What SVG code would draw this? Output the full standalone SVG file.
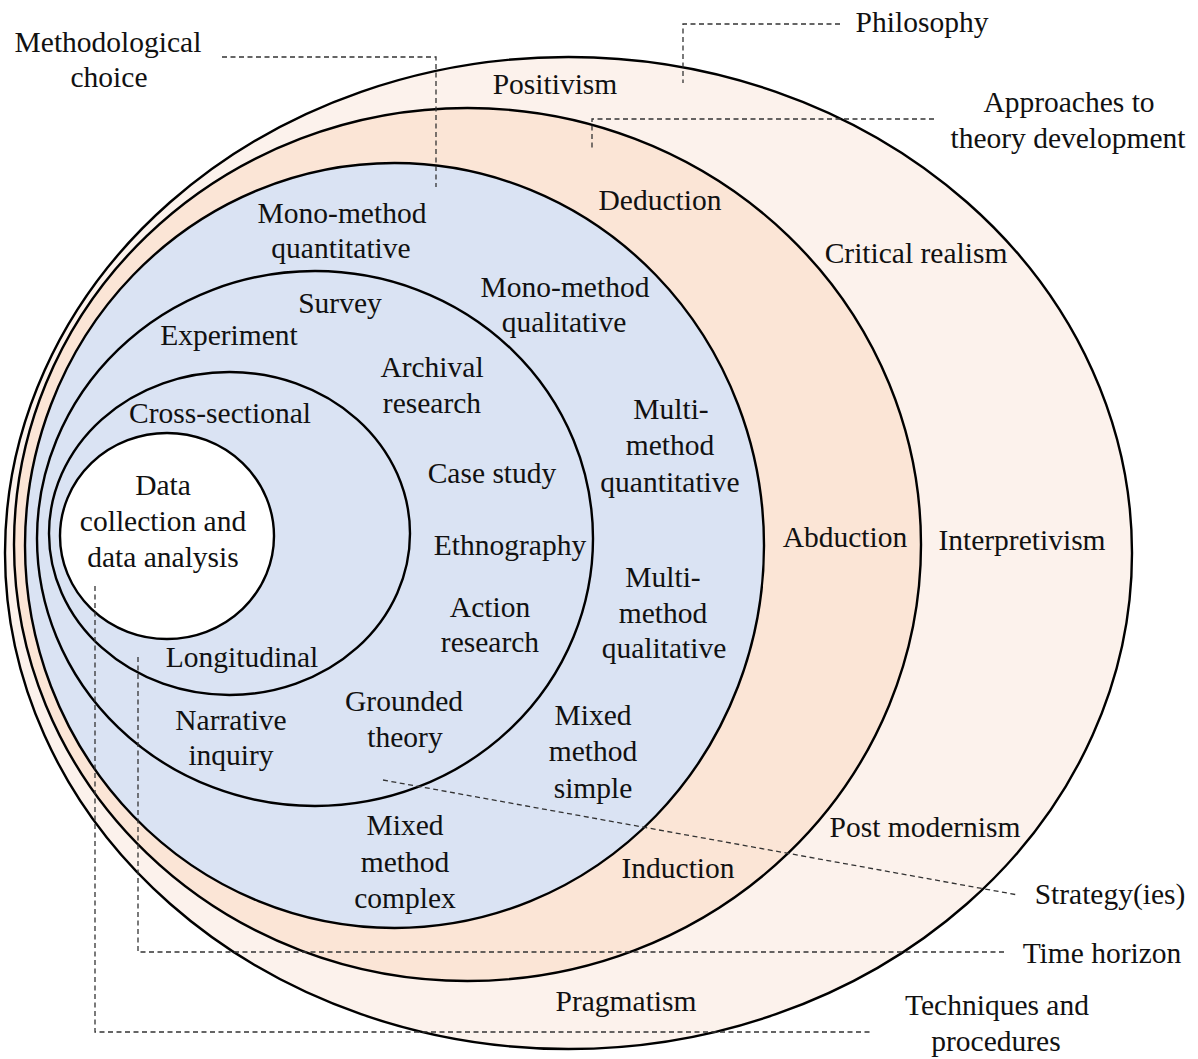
<svg xmlns="http://www.w3.org/2000/svg" width="1198" height="1059" viewBox="0 0 1198 1059">
<style>
.ring{stroke:#000;stroke-width:2.4}
.t{font-family:"Liberation Serif","Times New Roman",serif;font-size:29.5px;fill:#111;text-anchor:middle}
.d{fill:none;stroke:#333;stroke-width:1.3;stroke-dasharray:5 3.5}
</style>
<rect width="1198" height="1059" fill="#fff"/>
<g id="philosophy">
<ellipse class="ring" cx="568.5" cy="553" rx="563.5" ry="496" fill="#FCF2EC"/>
<text class="t" x="555" y="94">Positivism</text>
<text class="t" x="916" y="263">Critical realism</text>
<text class="t" x="1022" y="550">Interpretivism</text>
<text class="t" x="925" y="837">Post modernism</text>
<text class="t" x="626" y="1011">Pragmatism</text>
</g>
<g id="approaches">
<ellipse class="ring" cx="467.5" cy="544.5" rx="453.5" ry="436.5" fill="#FBE5D6"/>
<text class="t" x="660" y="210">Deduction</text>
<text class="t" x="845" y="547">Abduction</text>
<text class="t" x="678" y="878">Induction</text>
</g>
<g id="methodological-choice">
<ellipse class="ring" cx="394.5" cy="545.5" rx="369.5" ry="382.5" fill="#DAE3F3"/>
<text class="t" x="342" y="223">Mono-method</text>
<text class="t" x="341" y="258">quantitative</text>
<text class="t" x="565" y="297">Mono-method</text>
<text class="t" x="564" y="332">qualitative</text>
<text class="t" x="671" y="419">Multi-</text>
<text class="t" x="670" y="455">method</text>
<text class="t" x="670" y="492">quantitative</text>
<text class="t" x="663" y="587">Multi-</text>
<text class="t" x="663" y="623">method</text>
<text class="t" x="664" y="658">qualitative</text>
<text class="t" x="593" y="725">Mixed</text>
<text class="t" x="593" y="761">method</text>
<text class="t" x="593" y="798">simple</text>
<text class="t" x="405" y="835">Mixed</text>
<text class="t" x="405" y="872">method</text>
<text class="t" x="405" y="908">complex</text>
</g>
<g id="strategies">
<ellipse class="ring" cx="315" cy="538.5" rx="278" ry="267.5" fill="#DAE3F3"/>
<text class="t" x="340" y="313">Survey</text>
<text class="t" x="229" y="345">Experiment</text>
<text class="t" x="432" y="377">Archival</text>
<text class="t" x="432" y="413">research</text>
<text class="t" x="492" y="483">Case study</text>
<text class="t" x="510" y="555">Ethnography</text>
<text class="t" x="490" y="617">Action</text>
<text class="t" x="490" y="652">research</text>
<text class="t" x="404" y="711">Grounded</text>
<text class="t" x="405" y="747">theory</text>
<text class="t" x="231" y="730">Narrative</text>
<text class="t" x="231" y="765">inquiry</text>
</g>
<g id="time-horizon">
<ellipse class="ring" cx="229.5" cy="533.5" rx="180.5" ry="161.5" fill="#DAE3F3"/>
<text class="t" x="220" y="423">Cross-sectional</text>
<text class="t" x="242" y="667">Longitudinal</text>
</g>
<g id="data-collection">
<ellipse class="ring" cx="167" cy="536" rx="107" ry="103" fill="#fff"/>
<text class="t" x="163" y="495">Data</text>
<text class="t" x="163" y="531">collection and</text>
<text class="t" x="163" y="567">data analysis</text>
</g>
<g id="connectors">
<polyline class="d" points="222,57 436,57 436,187"/>
<polyline class="d" points="840,24 683,24 683,83"/>
<polyline class="d" points="934,119 592,119 592,150"/>
<line class="d" x1="383" y1="780" x2="1018" y2="895"/>
<polyline class="d" points="138,657 138,952 1004,952"/>
<polyline class="d" points="95,586 95,1032 872,1032"/>
</g>
<g id="label-methodological-choice">
<text class="t" x="108" y="52">Methodological</text>
<text class="t" x="109" y="87">choice</text>
</g>
<g id="label-philosophy"><text class="t" x="922" y="32">Philosophy</text></g>
<g id="label-approaches">
<text class="t" x="1069" y="112">Approaches to</text>
<text class="t" x="1068" y="148">theory development</text>
</g>
<g id="label-strategies"><text class="t" x="1110" y="904">Strategy(ies)</text></g>
<g id="label-time-horizon"><text class="t" x="1102" y="963">Time horizon</text></g>
<g id="label-techniques">
<text class="t" x="997" y="1015">Techniques and</text>
<text class="t" x="996" y="1051">procedures</text>
</g>
</svg>
